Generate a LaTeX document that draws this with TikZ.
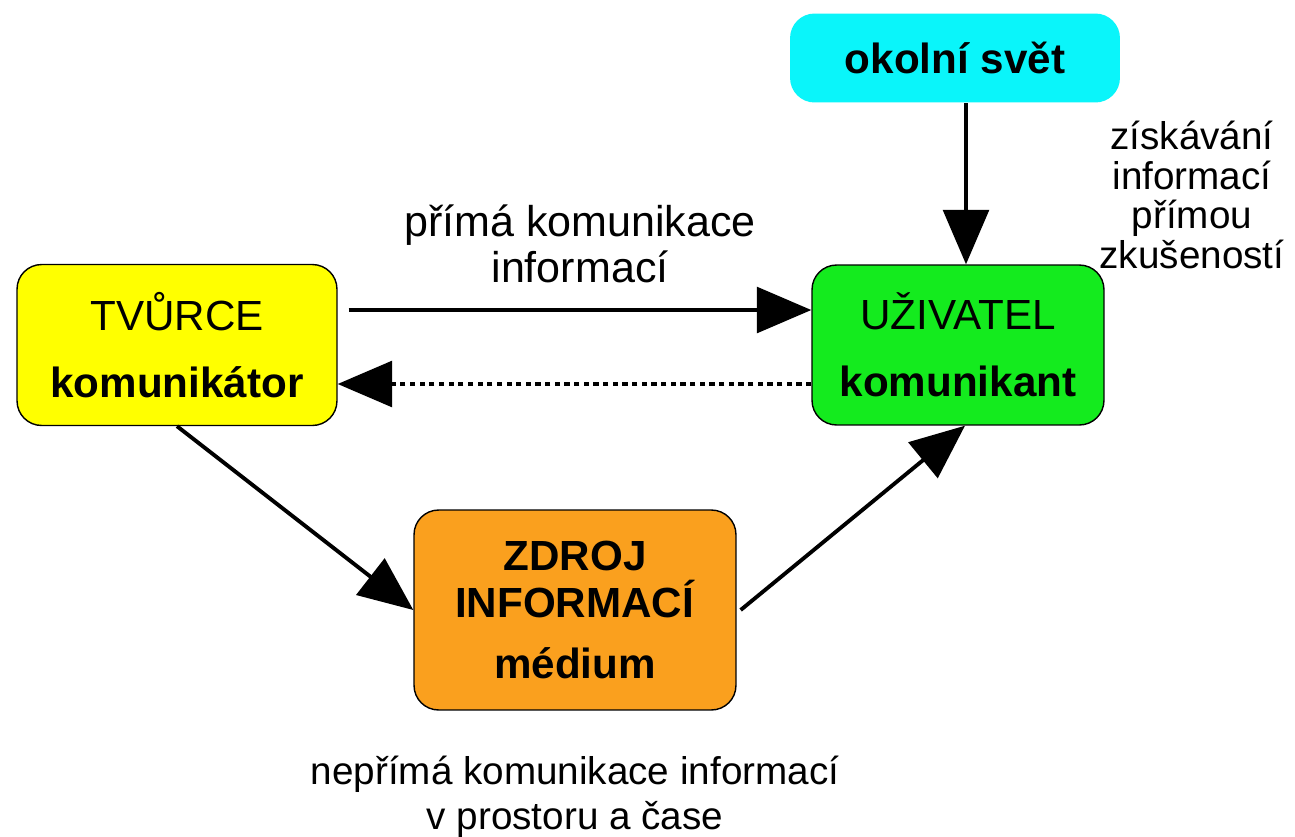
\documentclass[tikz,border=0pt]{standalone}
\usepackage{fontspec}
\setmainfont{Liberation Sans}
\usetikzlibrary{arrows.meta, positioning}

\definecolor{svetcolor}{RGB}{10,245,250}
\definecolor{tvurcecolor}{RGB}{255,255,0}
\definecolor{uzivatelcolor}{RGB}{20,235,30}
\definecolor{zdrojcolor}{RGB}{250,160,30}

\begin{document}
\begin{tikzpicture}[x=0.02cm, y=-0.02cm,
    box/.style={draw=black, line width=0.8pt, rounded corners=14pt, align=center,
        inner sep=0pt, font=\fontsize{24}{38}\selectfont},
    lbl/.style={align=center, font=\fontsize{22}{25.5}\selectfont},
    arr/.style={line width=2.2pt, -{Triangle[length=31pt, width=26pt]}}]
        \useasboundingbox[fill=white] (0,0) rectangle (1295,836);

        \node[box, fill=tvurcecolor, minimum width=6.4cm, minimum height=3.22cm] (tvurce) at (177,345)
            {TVŮRCE\\\textbf{komunikátor}};
        \node[box, fill=uzivatelcolor, minimum width=5.84cm, minimum height=3.2cm] (uzivatel) at (958,345)
            {UŽIVATEL\\\textbf{komunikant}};
        \node[box, draw=none, fill=svetcolor, minimum width=6.6cm, minimum height=1.78cm] (svet) at (955,58)
            {\textbf{okolní svět}};
        \node[box, fill=zdrojcolor, minimum width=6.44cm, minimum height=4cm] (zdroj) at (575,610)
            {\textbf{ZDROJ}\\[-11pt]\textbf{INFORMACÍ}\\[-3pt]\textbf{médium}};

        \draw[arr] ([shift={(0.22cm,0.7cm)}]tvurce.east) -- ([yshift=0.7cm]uzivatel.west);
        \draw[arr, dash pattern=on 3pt off 2.5pt] ([yshift=-0.78cm]uzivatel.west) -- ([yshift=-0.78cm]tvurce.east);
        \draw[arr] (tvurce.south) -- (zdroj.west);
        \draw[arr] ([xshift=0.08cm]zdroj.east) -- ([xshift=0.14cm]uzivatel.south);
        \draw[arr] ([xshift=0.22cm]svet.south) -- ([xshift=0.16cm]uzivatel.north);

        \node[lbl, font=\fontsize{24.5}{26}\selectfont] (prima) at (580,244) {přímá komunikace\\informací};
        \node[lbl, font=\fontsize{22}{22.7}\selectfont] (ziskavani) at (1192,195) {získávání\\informací\\přímou\\zkušeností};
        \node[lbl] (neprima) at (575,797) {nepřímá komunikace informací\\v prostoru a čase};
    \end{tikzpicture}
\end{document}
